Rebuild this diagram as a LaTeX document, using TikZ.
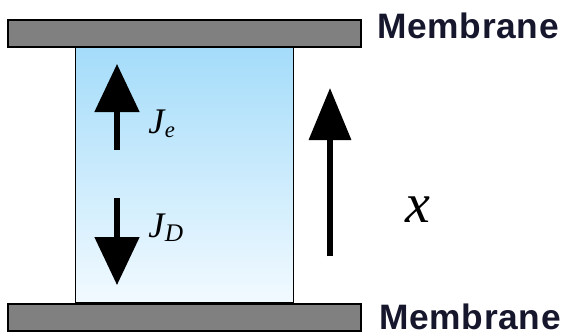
\documentclass[tikz,border=0pt]{standalone}
\usepackage{fontspec}
\setmainfont{Liberation Serif}
\newfontfamily\memfont[LetterSpace=2]{Liberation Sans}
\usetikzlibrary{arrows.meta}
\definecolor{fluidtop}{RGB}{164,220,250}
\definecolor{fluidbot}{RGB}{242,250,255}
\definecolor{memgrey}{RGB}{128,128,128}
\definecolor{memtext}{RGB}{22,22,45}
\tikzset{
  membar/.style={draw=black, line width=1.5pt, fill=memgrey},
  fluid/.style={draw=black, line width=1.2pt, top color=fluidtop, bottom color=fluidbot},
  flux/.style={line width=3.8pt, -{Triangle[width=33pt,length=36pt]}},
  axisarrow/.style={line width=4.2pt, -{Triangle[width=31pt,length=39pt]}},
  memlabel/.style={anchor=base west, inner sep=0pt, text=memtext, font=\memfont\bfseries\fontsize{26.5}{30}\selectfont},
  fluxlabel/.style={anchor=base west, inner sep=0pt, font=\itshape\fontsize{27}{30}\selectfont},
  xlabel/.style={anchor=base west, inner sep=0pt, font=\itshape\fontsize{42}{44}\selectfont}
}
\begin{document}
\begin{tikzpicture}[x=0.75pt, y=-0.75pt]
\useasboundingbox (0,0) rectangle (573,335);
% fluid box
\path[fluid] (75.5,47) rectangle (293.5,303);
% membranes
\path[membar] (8,20.5) rectangle (361,47.5);
\path[membar] (8,303.5) rectangle (361,331);
% labels
\node[memlabel] (mtop) at (377,39) {Membrane};
\node[memlabel] (mbot) at (379,329.5) {Membrane};
% flux arrows
\coordinate (je0) at (117,150);
\coordinate (je1) at (117,64);
\coordinate (jd0) at (117,198);
\coordinate (jd1) at (117,285);
\draw[flux] (je0) -- (je1);
\draw[flux] (jd0) -- (jd1);
\node[fluxlabel] (je) at (148,133) {J\kern0.5pt\raisebox{-3pt}{\fontsize{17}{17}\selectfont e}};
\node[fluxlabel] (jd) at (148,237) {J\kern0.5pt\raisebox{-3pt}{\fontsize{19}{19}\selectfont D}};
% x axis arrow
\coordinate (x0) at (330,256);
\coordinate (x1) at (330,88);
\draw[axisarrow] (x0) -- (x1);
\node[xlabel] (xl) at (405,222) {x};
\end{tikzpicture}
\end{document}
